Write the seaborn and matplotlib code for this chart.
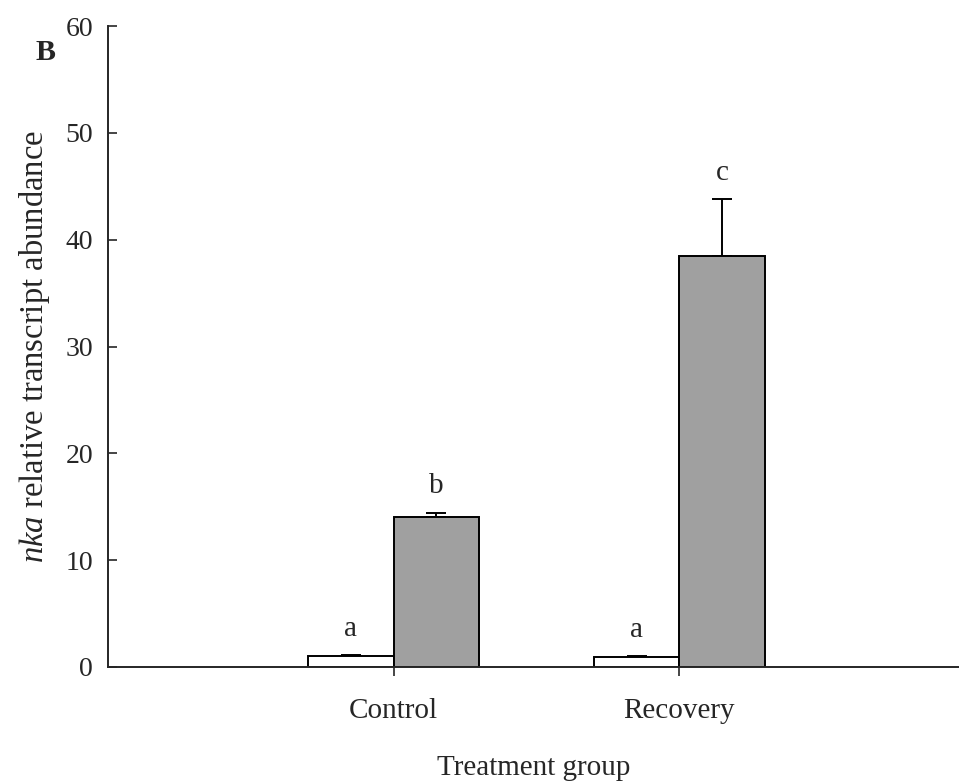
import matplotlib
matplotlib.use("Agg")
import matplotlib.pyplot as plt
import seaborn as sns
import pandas as pd
import numpy as np

groups = ["Control", "Control", "Recovery", "Recovery"]
series = ["S1", "S2", "S1", "S2"]
values = [1.0, 14.0, 0.9, 38.5]
errors = [0.12, 0.45, 0.15, 5.3]
letters = ["a", "b", "a", "c"]
yticks = [0, 10, 20, 30, 40, 50, 60]

sns.set_style("ticks")
plt.rcParams["font.family"] = ["Liberation Serif", "DejaVu Serif"]
plt.rcParams["mathtext.fontset"] = "custom"
plt.rcParams["mathtext.it"] = "Liberation Serif:italic"
plt.rcParams["mathtext.rm"] = "Liberation Serif"

df = pd.DataFrame({"group": groups, "series": series, "value": values, "err": errors})

fig = plt.figure(figsize=(9.59, 7.84), dpi=100)
ax = fig.add_axes([107.7 / 959, (784 - 667) / 784, 1 - 107.7 / 959, (667 - 26) / 784])

sns.barplot(data=df, x="group", y="value", hue="series",
            palette=["white", "#a0a0a0"], edgecolor="black", linewidth=1.4,
            errorbar=None, width=0.6, legend=False, ax=ax, saturation=1)

# bar centres from the drawn patches (hue-major order)
bars = [p for p in ax.patches if p.get_height() > 0]
order = []
for s in ["S1", "S2"]:
    for g in ["Control", "Recovery"]:
        order.append((g, s))
bar_map = {k: b for k, b in zip(order, bars)}
for g, s, v, e, l in zip(groups, series, values, errors, letters):
    b = bar_map[(g, s)]
    xc = b.get_x() + b.get_width() / 2
    ax.errorbar(xc, v, yerr=[[0], [e]], fmt="none", ecolor="black",
                elinewidth=1.4, capsize=7, capthick=1.4, zorder=0.5)
    ax.text(xc, v + e + 1.8, l, ha="center", va="baseline", fontsize=21)

ax.set_xlim(-1, 1.978)
ax.set_ylim(0, 60)
ax.set_yticks(yticks)
ax.tick_params(axis="y", direction="in", length=6.5, width=1.2, labelsize=20, pad=10.5)
ax.tick_params(axis="x", direction="out", length=6.5, width=1.2, labelsize=21, pad=16)
for side in ["top", "right"]:
    ax.spines[side].set_visible(False)
for side in ["left", "bottom"]:
    ax.spines[side].set_linewidth(1.4)

ax.set_xlabel("Treatment group", fontsize=21, labelpad=22)
ax.set_ylabel(r"$\it{nka}$ relative transcript abundance", fontsize=23.5, labelpad=10)
fig.text(45 / 959, 1 - 52 / 784, "B", fontsize=21.5, fontweight="bold", ha="center", va="center")

fig.savefig("out.png", dpi=100)
